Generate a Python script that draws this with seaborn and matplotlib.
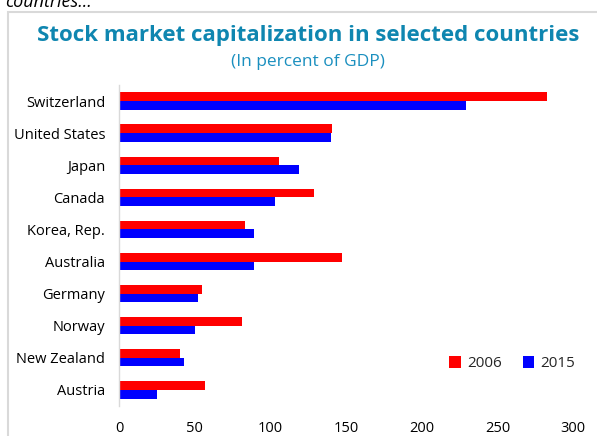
import matplotlib
matplotlib.use("Agg")
import matplotlib.pyplot as plt
import seaborn as sns
import pandas as pd
from matplotlib.patches import Rectangle

countries = ["Switzerland", "United States", "Japan", "Canada", "Korea, Rep.",
             "Australia", "Germany", "Norway", "New Zealand", "Austria"]
values_2006 = [283, 141, 106, 129, 83, 147, 55, 81, 40, 57]
values_2015 = [229, 140, 119, 103, 89, 89, 52, 50, 43, 25]
years = ["2006", "2015"]
xticks = [0, 50, 100, 150, 200, 250, 300]

df = pd.DataFrame({
    "country": countries * 2,
    "value": values_2006 + values_2015,
    "year": [years[0]] * len(countries) + [years[1]] * len(countries),
})

sns.set_theme(style="white")
plt.rcParams['font.family'] = ['Open Sans', 'DejaVu Sans']

fig = plt.figure(figsize=(5.97, 4.36), dpi=100)
ax = fig.add_axes([0.1993, 0.069, 0.7607, 0.736])

sns.barplot(data=df, y="country", x="value", hue="year", orient="h",
            palette={"2006": "#ff0000", "2015": "#0000ff"},
            width=0.54, ax=ax, saturation=1, edgecolor="none")

ax.set_xlim(0, 300)
ax.set_xticks(xticks)
ax.set_xlabel("")
ax.set_ylabel("")
for s in ["top", "right", "bottom"]:
    ax.spines[s].set_visible(False)
ax.spines["left"].set_color("#d9d9d9")
ax.spines["left"].set_linewidth(1)
ax.tick_params(axis="both", length=0, labelsize=10.5, colors="#000000")
ax.tick_params(axis="x", pad=11)
ax.tick_params(axis="y", pad=10)

leg = ax.legend(loc="lower right", bbox_to_anchor=(1.035, 0.065), ncol=2, frameon=False,
                fontsize=11, handlelength=0.75, handleheight=0.75, columnspacing=1.4,
                handletextpad=0.4)

fig.patches.append(Rectangle((8 / 597, -0.05), 1.0, 1 - 12 / 436 + 0.05,
                             transform=fig.transFigure, fill=False,
                             edgecolor="#d9d9d9", linewidth=1.5))

fig.text(308 / 597, 1 - 35 / 436, "Stock market capitalization in selected countries",
         ha="center", va="center", fontsize=16, fontweight="bold", color="#0f86b0")
fig.text(308 / 597, 1 - 62 / 436, "(In percent of GDP)",
         ha="center", va="center", fontsize=12.5, color="#1a8fbf")
fig.text(5 / 597, 1 - 2 / 436, "countries...", ha="left", va="center",
         fontsize=13, fontstyle="italic", color="#000000")

fig.savefig("out.png", dpi=100)
